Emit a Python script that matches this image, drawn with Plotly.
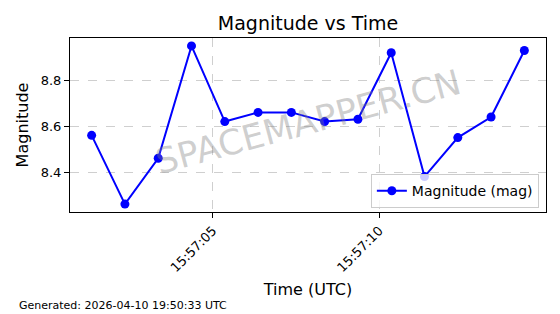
import plotly.graph_objects as go

times = ["2026-04-10 15:57:01.36", "2026-04-10 15:57:02.36", "2026-04-10 15:57:03.36",
         "2026-04-10 15:57:04.36", "2026-04-10 15:57:05.36", "2026-04-10 15:57:06.36",
         "2026-04-10 15:57:07.36", "2026-04-10 15:57:08.36", "2026-04-10 15:57:09.36",
         "2026-04-10 15:57:10.36", "2026-04-10 15:57:11.36", "2026-04-10 15:57:12.36",
         "2026-04-10 15:57:13.36", "2026-04-10 15:57:14.36"]
magnitudes = [8.56, 8.26, 8.46, 8.95, 8.62, 8.66, 8.66, 8.62, 8.63, 8.92, 8.38, 8.55, 8.64, 8.93]
x_ticks = ["2026-04-10 15:57:05", "2026-04-10 15:57:10"]
x_tick_labels = ["15:57:05", "15:57:10"]
y_ticks = [8.4, 8.6, 8.8]

FONT = "DejaVu Sans"

fig = go.Figure()
fig.add_trace(go.Scatter(
    x=times, y=magnitudes, mode="lines+markers", name="Magnitude (mag)",
    line=dict(color="#0000ff", width=2),
    marker=dict(color="#0000ff", size=9, symbol="circle"),
))

axis_common = dict(
    showline=True, mirror=True, linecolor="black", linewidth=1,
    ticks="outside", ticklen=5, tickcolor="black", tickwidth=1,
    showgrid=True, gridcolor="#cfcfcf", griddash="dash", gridwidth=1,
    zeroline=False, tickfont=dict(family=FONT, size=13, color="black"),
    automargin=False,
)

fig.update_xaxes(
    **axis_common,
    type="date",
    range=["2026-04-10 15:57:00.71", "2026-04-10 15:57:15.01"],
    tickvals=x_ticks, ticktext=x_tick_labels,
    tickangle=-45,
    title=dict(text="Time (UTC)", font=dict(family=FONT, size=16, color="black"), standoff=9),
)
fig.update_yaxes(
    **axis_common,
    range=[8.2255, 8.9845],
    tickvals=y_ticks, ticktext=[f"{v:.1f}" for v in y_ticks],
    title=dict(text="Magnitude", font=dict(family=FONT, size=16, color="black"), standoff=8),
)

fig.add_annotation(
    text="SPACEMAPPER.CN", xref="paper", yref="paper", x=0.5, y=0.52,
    showarrow=False, textangle=-15,
    font=dict(family=FONT, size=35, color="rgba(128,128,128,0.38)"),
)
fig.add_annotation(
    text="Generated: 2026-04-10 19:50:33 UTC", xref="paper", yref="paper",
    x=-53 / 476, y=-93 / 174, xanchor="left", yanchor="middle", showarrow=False,
    font=dict(family=FONT, size=11, color="black"),
)

fig.update_layout(
    width=560, height=314,
    margin=dict(l=70, r=14, t=38, b=102),
    paper_bgcolor="white", plot_bgcolor="white",
    title=dict(text="Magnitude vs Time", x=0.55, xanchor="center", y=1 - 23 / 314, yanchor="middle",
               font=dict(family=FONT, size=19, color="black")),
    showlegend=True,
    legend=dict(x=0.985, y=0.022, xanchor="right", yanchor="bottom",
                bgcolor="rgba(255,255,255,0.8)", bordercolor="#cccccc", borderwidth=1,
                font=dict(family=FONT, size=14, color="black")),
)

fig.write_html("out.html")
